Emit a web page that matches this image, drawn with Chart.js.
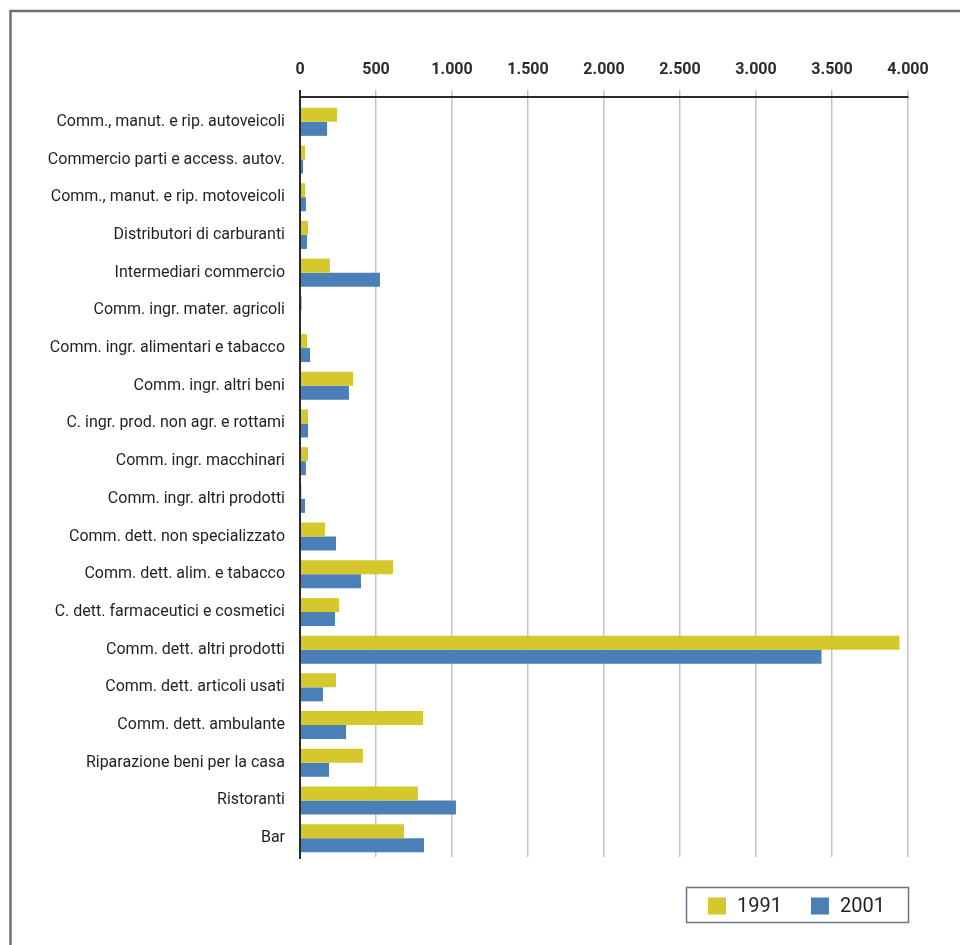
<!DOCTYPE html>
<html lang="it">
<head>
<meta charset="utf-8">
<title>Unità locali per attività economica, 1991 e 2001</title>
<script src="https://cdn.jsdelivr.net/npm/chart.js@4.4.1/dist/chart.umd.min.js"></script>
<style>
  html, body { margin: 0; padding: 0; background: #ffffff; }
  #wrap { width: 960px; height: 945px; position: relative; }
</style>
</head>
<body>
<div id="wrap"><canvas id="chart" width="960" height="945"></canvas></div>
<script>
// Categorie di attività (asse verticale, dall'alto verso il basso)
const categories = [
  'Comm., manut. e rip. autoveicoli',
  'Commercio parti e access. autov.',
  'Comm., manut. e rip. motoveicoli',
  'Distributori di carburanti',
  'Intermediari commercio',
  'Comm. ingr. mater. agricoli',
  'Comm. ingr. alimentari e tabacco',
  'Comm. ingr. altri beni',
  'C. ingr. prod. non agr. e rottami',
  'Comm. ingr. macchinari',
  'Comm. ingr. altri prodotti',
  'Comm. dett. non specializzato',
  'Comm. dett. alim. e tabacco',
  'C. dett. farmaceutici e cosmetici',
  'Comm. dett. altri prodotti',
  'Comm. dett. articoli usati',
  'Comm. dett. ambulante',
  'Riparazione beni per la casa',
  'Ristoranti',
  'Bar'
];

// Serie
const seriesLabels = ['1991', '2001'];
const values1991 = [243, 33, 33, 53, 197, 13, 46, 349, 53, 53, 10, 164, 612, 257, 3944, 237, 809, 414, 776, 684];
const values2001 = [178, 20, 39, 46, 526, 7, 66, 322, 53, 39, 33, 237, 401, 230, 3431, 151, 303, 191, 1026, 816];

// Asse dei valori
const axisMin = 0;
const axisMax = 4000;
const axisStep = 500;

const COLORS = ['#d4c82c', '#4b7fb7'];
const TEXT = '#231f20';
const FONT = 'Roboto, "Open Sans", sans-serif';

// Separatore delle migliaia con il punto
function fmt(v) {
  return String(Math.round(v)).replace(/\B(?=(\d{3})+(?!\d))/g, '.');
}

// Cornice esterna del riquadro
const framePlugin = {
  id: 'frame',
  beforeDraw(chart) {
    const c = chart.ctx;
    c.save();
    c.strokeStyle = '#6f6f6f';
    c.lineWidth = 2.5;
    c.beginPath();
    c.moveTo(10.5, 945);
    c.lineTo(10.5, 11);
    c.lineTo(960, 11);
    c.stroke();
    c.restore();
  }
};

// Linee degli assi: orizzontale sopra l'area, verticale sullo zero
const axesPlugin = {
  id: 'axesLines',
  afterDatasetsDraw(chart) {
    const c = chart.ctx;
    const x = chart.scales.x;
    const a = chart.chartArea;
    const x0 = x.getPixelForValue(axisMin);
    const x1 = x.getPixelForValue(axisMax);
    c.save();
    c.strokeStyle = '#2a2a2a';
    c.lineWidth = 2;
    c.beginPath();
    c.moveTo(x0, 97);
    c.lineTo(x1 + 0.5, 97);
    c.stroke();
    c.beginPath();
    c.moveTo(x0, 90);
    c.lineTo(x0, a.bottom + 2);
    c.stroke();
    c.restore();
  }
};

// Legenda incorniciata in basso a destra
const legendBoxPlugin = {
  id: 'legendBox',
  afterDraw(chart) {
    const c = chart.ctx;
    c.save();
    c.strokeStyle = '#6e767e';
    c.lineWidth = 1.5;
    c.strokeRect(686.5, 887.5, 222, 35);
    c.font = '20px ' + FONT;
    c.textBaseline = 'middle';
    c.textAlign = 'left';
    let px = 708;
    chart.data.datasets.forEach(ds => {
      c.fillStyle = ds.backgroundColor;
      c.fillRect(px, 897.5, 18, 17);
      c.fillStyle = TEXT;
      c.fillText(ds.label, px + 29, 906.5);
      px += 29 + c.measureText(ds.label).width + 29;
    });
    c.restore();
  }
};

new Chart(document.getElementById('chart'), {
  type: 'bar',
  data: {
    labels: categories,
    datasets: [
      { label: seriesLabels[0], data: values1991, backgroundColor: COLORS[0] },
      { label: seriesLabels[1], data: values2001, backgroundColor: COLORS[1] }
    ]
  },
  options: {
    indexAxis: 'y',
    responsive: false,
    devicePixelRatio: 1,
    animation: false,
    categoryPercentage: 0.743,
    barPercentage: 1,
    layout: { padding: { left: 0, top: 0, right: 52, bottom: 88 } },
    plugins: {
      legend: { display: false },
      tooltip: { enabled: false }
    },
    scales: {
      x: {
        type: 'linear',
        position: 'top',
        min: axisMin,
        max: axisMax,
        ticks: {
          stepSize: axisStep,
          padding: 10,
          color: '#2b2b2b',
          font: { family: FONT, size: 16, weight: 'bold' },
          callback: v => fmt(v)
        },
        grid: { color: '#c4c4c4', lineWidth: 1.5, tickLength: 13, drawTicks: true },
        border: { display: false },
        afterFit(s) { s.height = 103; }
      },
      y: {
        type: 'category',
        ticks: {
          padding: 7,
          color: TEXT,
          font: { family: FONT, size: 16 }
        },
        grid: { display: false },
        border: { display: false },
        afterFit(s) { s.width = 300; }
      }
    }
  },
  plugins: [framePlugin, axesPlugin, legendBoxPlugin]
});
</script>
</body>
</html>
